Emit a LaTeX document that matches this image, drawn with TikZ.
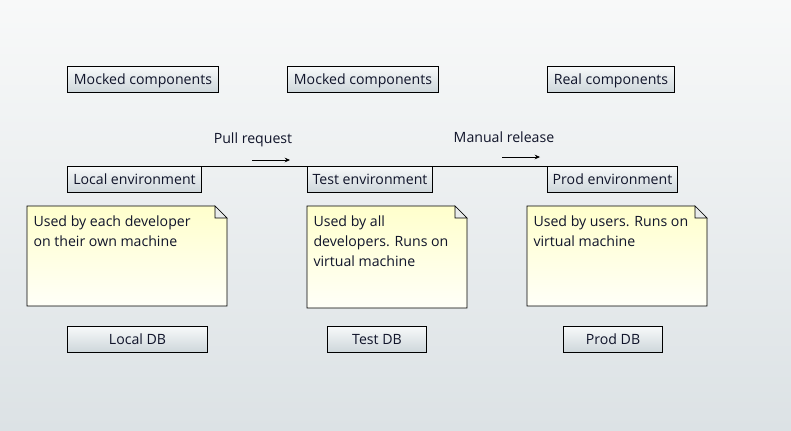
\documentclass[tikz,border=0pt]{standalone}
\usepackage{fontspec}
\setmainfont{Open Sans}
\usetikzlibrary{positioning,backgrounds,arrows.meta}
\definecolor{bgtop}{HTML}{F8F9F9}
\definecolor{bgbot}{HTML}{DCE2E5}
\definecolor{boxtop}{HTML}{F7F9FA}
\definecolor{boxbot}{HTML}{CDD6DA}
\definecolor{notetop}{HTML}{FFFFCC}
\definecolor{notebot}{HTML}{FFFFF8}
\definecolor{fold}{HTML}{E9ECEC}
\definecolor{txt}{HTML}{10142A}

\begin{document}
\begin{tikzpicture}[x=0.75pt, y=-0.75pt, line width=0.75pt,
    every node/.style={font=\fontsize{10.6}{15}\selectfont, text=txt},
    comp/.style={draw, anchor=north west, minimum height=19.5pt, inner sep=0pt, text depth=0.5pt, top color=boxtop, bottom color=boxbot},
    boxw/.style={minimum width=#1*0.75pt},
    notetext/.style={anchor=north west, inner sep=0pt, align=left},
    flow/.style={-{Stealth[length=4pt,width=3.5pt]}, line width=0.6pt}]

    % backdrop and note sheets
    \begin{scope}[on background layer]
        \shade[top color=bgtop, bottom color=bgbot] (0,0) rectangle (791,430);
        \foreach \x/\y/\w/\h in {27/206/200/100, 307/206/160/102, 527/206/180/100} {
            \draw[top color=notetop, bottom color=notebot] (\x,\y) -- ++(\w-12,0) -- ++(12,12) -- (\x+\w,\y+\h) -- (\x,\y+\h) -- cycle;
            \draw[fill=fold] (\x+\w-12,\y) -- ++(0,12) -- ++(12,0) -- cycle;
        }
    \end{scope}

    \node[comp, boxw=151] (mock1) at (67,66) {Mocked components};
    \node[comp, boxw=151] (mock2) at (287,66) {Mocked components};
    \node[comp, boxw=127] (real) at (547,66) {Real components};

    \node[comp, boxw=134] (lenv) at (67,166) {Local environment};
    \node[comp, boxw=125] (tenv) at (307,166) {Test environment};
    \node[comp, boxw=130] (penv) at (547,166) {Prod environment};

    \node[notetext] (lnote) at (33,215) {Used by each developer\\on their own machine};
    \node[notetext] (tnote) at (313,215) {Used by all\\developers. Runs on\\virtual machine};
    \node[notetext] (pnote) at (533,215) {Used by users. Runs on\\virtual machine};

    \node[comp, boxw=140] (ldb) at (67,326) {Local DB};
    \node[comp, boxw=99] (tdb) at (327,326) {Test DB};
    \node[comp, boxw=99] (pdb) at (563,326) {Prod DB};

    \draw (lenv.north east) -- (tenv.north west);
    \draw (tenv.north east) -- (penv.north west);

    \node (pull) at (253,140) {Pull request};
    \coordinate (pull1) at (252,160);
    \coordinate (pull2) at (290,160);
    \draw[flow] (pull1) -- (pull2);

    \node (rel) at (504,137) {Manual release};
    \coordinate (rel1) at (502,157);
    \coordinate (rel2) at (540,157);
    \draw[flow] (rel1) -- (rel2);
\end{tikzpicture}
\end{document}
